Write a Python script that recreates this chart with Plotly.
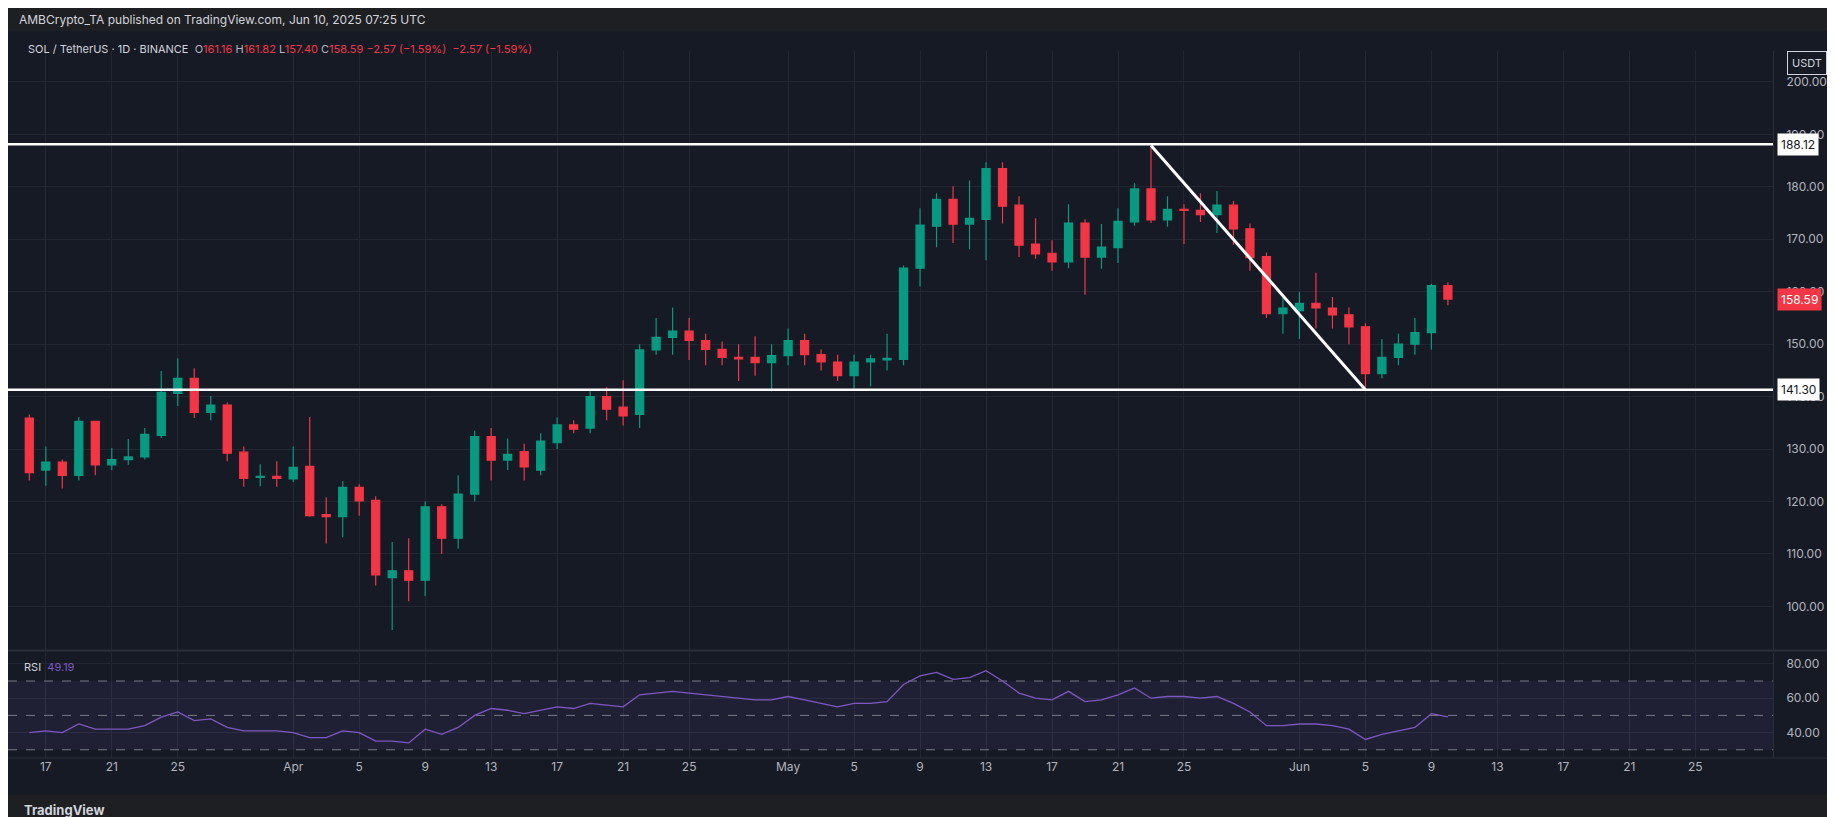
import pandas as pd
import plotly.graph_objects as go
from plotly.subplots import make_subplots

start_date = "2025-03-16"
opens = [135.9,126.0,127.5,125.0,135.3,127.0,128.0,128.5,132.6,140.6,143.5,137.0,138.4,129.4,124.6,124.8,
         124.3,126.7,117.5,117.1,122.7,120.2,105.5,106.8,105.0,119.0,113.0,121.4,132.4,127.9,129.5,126.0,
         131.2,134.6,134.0,140.0,138.0,136.6,148.9,151.3,152.5,150.7,149.0,147.5,147.5,146.5,
         147.8,150.7,148.0,146.6,144.0,146.6,147.0,147.1,164.5,172.5,177.6,172.9,173.8,183.5,176.5,169.1,
         167.3,165.7,173.1,166.6,168.4,173.3,179.6,173.7,175.7,175.5,174.7,176.5,172.0,166.7,
         155.8,156.4,157.8,156.9,155.6,153.3,144.4,147.5,150.0,152.2,161.16]
highs = [136.6,130.5,128.0,136.1,135.3,130.2,131.9,134.0,144.9,147.3,145.4,140.1,138.9,130.5,127.1,127.7,
         130.5,136.1,120.8,123.9,123.3,121.0,112.3,113.0,120.0,119.5,125.0,133.5,134.0,132.0,131.0,133.0,
         136.0,135.5,141.0,141.8,143.1,150.0,155.0,157.0,155.0,152.0,150.5,150.0,151.5,150.0,
         153.0,152.0,149.0,148.0,148.0,148.0,152.0,165.0,175.9,178.8,180.1,181.2,184.7,184.7,178.2,174.0,
         169.8,176.7,173.8,172.9,175.9,180.7,187.9,178.2,176.7,178.8,179.2,177.3,173.0,167.5,
         159.0,160.0,163.6,159.0,157.0,154.0,151.0,152.0,155.0,161.5,161.82]
lows = [124.0,123.0,122.5,124.0,125.0,126.0,127.0,128.0,132.1,138.2,135.9,135.5,127.7,122.8,122.9,122.8,
        123.7,117.1,112.0,113.2,117.3,104.0,95.5,101.0,102.0,110.0,111.0,120.0,124.0,126.0,124.0,125.0,
        130.0,133.0,133.0,135.5,134.5,134.0,148.0,148.0,147.0,146.0,146.0,143.0,144.0,141.0,
        146.0,146.0,145.0,143.0,141.5,142.0,145.0,146.0,161.0,168.5,169.3,168.1,166.0,173.0,166.6,166.3,
        164.0,164.5,159.4,164.4,165.5,172.6,173.1,172.4,169.1,173.3,171.2,168.9,164.0,155.0,
        152.0,151.0,153.0,153.0,150.0,141.5,143.5,146.0,148.0,149.0,157.40]
closes = [125.5,127.5,125.0,135.3,127.0,128.0,128.5,132.8,140.8,143.5,137.0,138.4,129.2,124.4,124.8,124.4,
          126.5,117.3,117.1,122.7,120.1,106.0,106.8,105.0,119.0,113.0,121.4,132.4,127.9,129.0,126.6,131.5,
          134.6,133.8,140.0,137.6,136.3,148.9,151.3,152.5,150.7,149.0,147.5,147.2,146.5,147.8,
          150.7,148.0,146.6,144.0,146.6,147.2,147.3,164.5,172.7,177.6,172.9,174.0,183.5,176.3,168.9,167.2,
          165.7,173.1,166.6,168.5,173.4,179.6,173.7,175.7,175.5,174.7,176.5,172.0,166.5,155.8,
          156.9,157.8,156.9,155.6,153.3,144.4,147.5,150.0,152.2,161.16,158.59]
rsi = [40,41,40,45,42,42,42,44,49,52,47,48,43,41,41,41,
       40,37,37,41,40,35,35,34,42,39,43,50,54,53,51,53,
       55,54,57,56,55,62,63,64,63,62,61,60,59,59,
       61,59,57,55,57,57,58,68,73,75,71,72,76,70,63,60,
       59,64,58,59,62,66,60,61,61,60,61,57,52,44,
       44,45,45,44,42,36,39,41,43,51,49.19]

dates = pd.date_range(start_date, periods=len(closes), freq="D")
tick_dates = ["2025-03-17","2025-03-21","2025-03-25","2025-04-01","2025-04-05","2025-04-09","2025-04-13",
              "2025-04-17","2025-04-21","2025-04-25","2025-05-01","2025-05-05","2025-05-09","2025-05-13",
              "2025-05-17","2025-05-21","2025-05-25","2025-06-01","2025-06-05","2025-06-09","2025-06-13",
              "2025-06-17","2025-06-21","2025-06-25"]
tick_text = ["17","21","25","Apr","5","9","13","17","21","25","May","5","9","13","17","21","25","Jun","5","9","13","17","21","25"]
price_ticks = [100,110,120,130,140,150,160,170,180,190,200]
rsi_ticks = [40,60,80]
rsi_levels = [70, 50, 30]
support, resistance = 141.30, 188.12
trend_dates = ["2025-05-23","2025-06-05"]
trend_prices = [187.9, 141.3]

BG = "#161a25"; GRID = "#232734"; TXT = "#b2b5be"
UP = "#089981"; DN = "#f23645"
FONT = "Inter, Roboto, sans-serif"
T, B = 43, 67
H = 817 - T - B

fig = make_subplots(rows=2, cols=1, shared_xaxes=True, vertical_spacing=0.003, row_heights=[0.849, 0.148])
fig.add_trace(go.Candlestick(x=dates, open=opens, high=highs, low=lows, close=closes,
    increasing=dict(line=dict(color=UP, width=1.2), fillcolor=UP),
    decreasing=dict(line=dict(color=DN, width=1.2), fillcolor=DN),
    whiskerwidth=0, showlegend=False, hoverinfo="skip"), row=1, col=1)

x0, x1 = "2025-03-14 17:00", "2025-06-29 17:00"
for lv in (support, resistance):
    fig.add_trace(go.Scatter(x=[x0, x1], y=[lv, lv], mode="lines", line=dict(color="white", width=2.5),
                             showlegend=False, hoverinfo="skip"), row=1, col=1)
fig.add_trace(go.Scatter(x=trend_dates, y=trend_prices, mode="lines", line=dict(color="white", width=3),
                         showlegend=False, hoverinfo="skip"), row=1, col=1)

fig.add_trace(go.Scatter(x=[x0, x1], y=[rsi_levels[2]]*2, mode="lines", line=dict(width=0),
                         showlegend=False, hoverinfo="skip"), row=2, col=1)
fig.add_trace(go.Scatter(x=[x0, x1], y=[rsi_levels[0]]*2, mode="lines", line=dict(width=0),
                         fill="tonexty", fillcolor="rgba(126,87,194,0.10)", showlegend=False, hoverinfo="skip"),
              row=2, col=1)
for lv in rsi_levels:
    fig.add_trace(go.Scatter(x=[x0, x1], y=[lv, lv], mode="lines",
                             line=dict(color="#787b86", width=1, dash="dash"),
                             showlegend=False, hoverinfo="skip"), row=2, col=1)
fig.add_trace(go.Scatter(x=dates, y=rsi, mode="lines", line=dict(color="#7e57c2", width=1.3),
                         showlegend=False, hoverinfo="skip"), row=2, col=1)

fig.update_layout(
    width=1835, height=817, paper_bgcolor=BG, plot_bgcolor=BG,
    margin=dict(l=0, r=70, t=T, b=B), font=dict(family=FONT, color=TXT, size=11),
)
fig.update_xaxes(range=[x0, x1], showgrid=True, gridcolor=GRID, tickvals=tick_dates, ticktext=tick_text,
                 zeroline=False, showline=False, rangeslider_visible=False, tickfont=dict(size=12, color=TXT),
                 ticks="")
fig.update_xaxes(showticklabels=False, row=1, col=1)
fig.update_yaxes(side="right", range=[91.45, 205.9], tickvals=price_ticks, gridcolor=GRID, zeroline=False,
                 tickfont=dict(size=12, color=TXT), showline=True, linecolor="#2a2e39", row=1, col=1,
                 ticklabelstandoff=10, tickformat=".2f")
fig.update_yaxes(side="right", range=[25.2, 86.1], tickvals=rsi_ticks, gridcolor=GRID, zeroline=False,
                 tickfont=dict(size=12, color=TXT), showline=True, linecolor="#2a2e39", row=2, col=1,
                 ticklabelstandoff=10, tickformat=".2f")

shapes = [
    dict(type="rect", xref="paper", yref="paper", x0=0, x1=1.04, y0=1 + (T-23)/H, y1=1 + T/H,
         fillcolor="#1e1f22", line_width=0, layer="above"),
    dict(type="rect", xref="paper", yref="paper", x0=0, x1=1.04, y0=-B/H, y1=-(B-30)/H,
         fillcolor="#1e1f22", line_width=0, layer="above"),
    dict(type="line", xref="paper", yref="paper", x0=0, x1=1.04, y0=0.152, y1=0.152,
         line=dict(color="#2a2e39", width=2)),
    dict(type="line", xref="paper", yref="paper", x0=0, x1=1.04, y0=0, y1=0,
         line=dict(color="#2a2e39", width=1)),
]
fig.update_layout(shapes=shapes)

def lab(x, y, text, **kw):
    d = dict(xref="paper", yref="paper", x=x, y=y, text=text, showarrow=False, xanchor="left",
             yanchor="middle", font=dict(family=FONT, size=12, color=TXT))
    d.update(kw)
    fig.add_annotation(**d)

lab(0.005, 1 + (T-12)/H, "AMBCrypto_TA published on TradingView.com, Jun 10, 2025 07:25 UTC",
    font=dict(family=FONT, size=12, color="#d1d4dc"))
lab(0.01, 1 + (T-41)/H, "SOL / TetherUS · 1D · BINANCE  <span style='color:#b2b5be'>O</span><span style='color:#f23645'>161.16</span>"
    " <span style='color:#b2b5be'>H</span><span style='color:#f23645'>161.82</span>"
    " <span style='color:#b2b5be'>L</span><span style='color:#f23645'>157.40</span>"
    " <span style='color:#b2b5be'>C</span><span style='color:#f23645'>158.59</span>"
    " <span style='color:#f23645'>−2.57 (−1.59%)  −2.57 (−1.59%)</span>",
    font=dict(family=FONT, size=11, color="#d1d4dc"))
lab(0.008, 0.148 - 14/H, "RSI  <span style='color:#7e57c2'>49.19</span>", font=dict(family=FONT, size=11, color="#d1d4dc"))
lab(0.008, -(B-15)/H, "<b>TradingView</b>", font=dict(family=FONT, size=13, color="#d1d4dc"))

for val, bg, fg in ((resistance, "white", "#131722"), (support, "white", "#131722"), (closes[-1], DN, "white")):
    fig.add_annotation(xref="paper", yref="y", x=1.0, y=val, text=f"{val:.2f}", showarrow=False,
                       xanchor="left", xshift=4, bgcolor=bg, font=dict(family=FONT, size=12, color=fg),
                       borderpad=3)
fig.add_annotation(xref="paper", yref="paper", x=1.0, y=1 - 0/H, text="USDT", showarrow=False,
                   xanchor="left", yanchor="top", xshift=14, bgcolor=BG, bordercolor="#d1d4dc", borderwidth=1,
                   borderpad=4, font=dict(family=FONT, size=11, color="#d1d4dc"))

fig.write_html("out.html")
